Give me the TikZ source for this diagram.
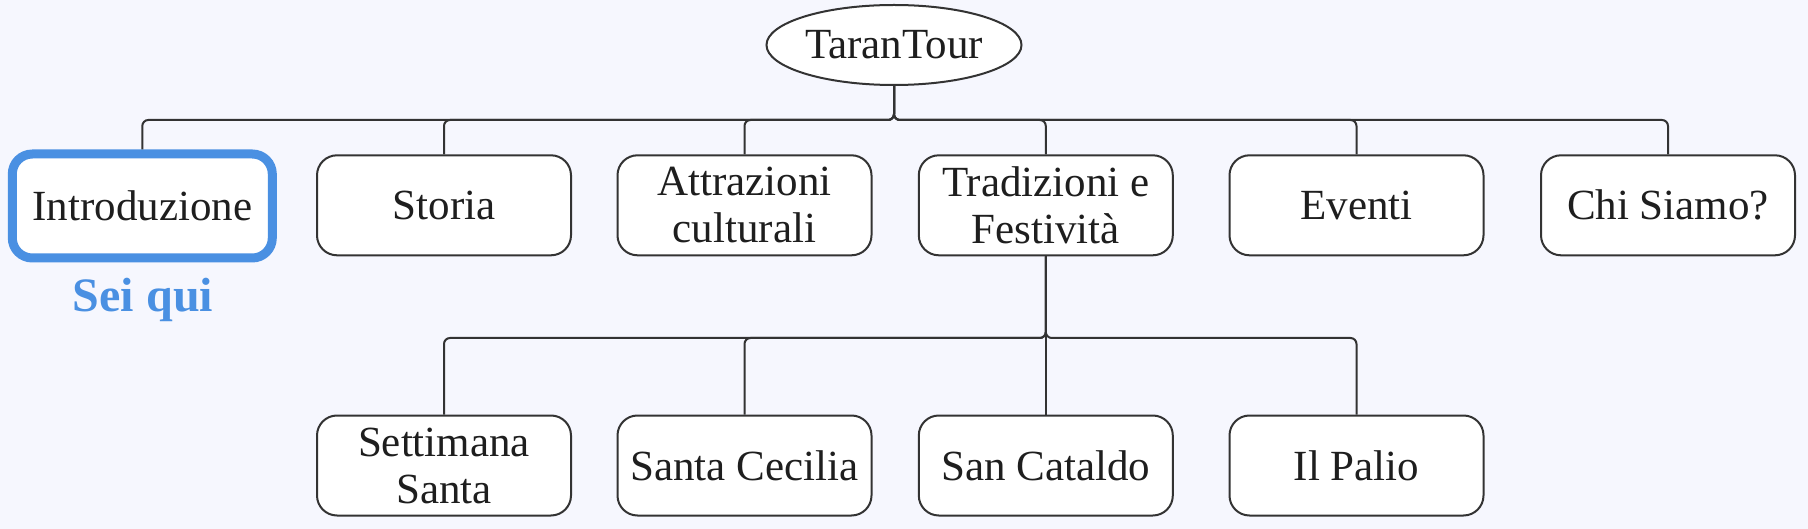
\documentclass[tikz,border=0pt]{standalone}
\usepackage{fontspec}
\setmainfont{Liberation Serif}
\usetikzlibrary{shapes.geometric}
\definecolor{bgc}{HTML}{F6F7FE}
\definecolor{linec}{HTML}{333333}
\definecolor{txtc}{HTML}{1E1E1E}
\definecolor{hiblue}{HTML}{4A90E2}
\tikzset{
  box/.style={draw=linec, line width=2pt, fill=white, rectangle, rounded corners=20pt,
    minimum width=254pt, minimum height=100pt, align=center, text=txtc,
    font=\fontsize{43}{47}\selectfont, inner sep=0pt},
  hibox/.style={box, draw=hiblue, line width=9pt, minimum width=260pt, minimum height=104pt},
  rootnode/.style={draw=linec, line width=2pt, fill=white, ellipse, minimum width=255pt,
    minimum height=80pt, inner sep=0pt, text=txtc, font=\fontsize{43}{47}\selectfont},
  conn/.style={draw=linec, line width=2pt, rounded corners=6pt},
  hilabel/.style={text=hiblue, font=\fontsize{48}{52}\selectfont\bfseries, anchor=base}
}
\begin{document}
\begin{tikzpicture}[x=1pt, y=-1pt]
\fill[bgc] (0,0) rectangle (1808,529);
\useasboundingbox (0,0) rectangle (1808,529);

\node[rootnode] (root) at (894,45) {TaranTour};

\node[hibox] (intro) at (142.3,206) {Introduzione};
\node[box] (storia) at (444,205.3) {Storia};
\node[box] (attr) at (744.5,205.3) {Attrazioni\\culturali};
\node[box] (trad) at (1045.8,205.3) {Tradizioni e\\Festività};
\node[box] (eventi) at (1356.5,205.3) {Eventi};
\node[box] (chi) at (1668,205.3) {Chi Siamo?};

\node[hilabel] (sei) at (143,312) {Sei qui};

\node[box] (sett) at (444,465.5) {Settimana\\Santa};
\node[box] (cec) at (744.5,465.5) {Santa Cecilia};
\node[box] (cat) at (1045.8,465.5) {San Cataldo};
\node[box] (palio) at (1356.5,465.5) {Il Palio};

\coordinate (bus1) at (0,120);
\coordinate (bus2) at (0,338);

\foreach \c in {intro,storia,attr,trad,eventi,chi}{
  \draw[conn] (root.south) -- (root.south |- bus1) -- (\c.north |- bus1) -- (\c.north);
}
\foreach \c in {sett,cec,cat,palio}{
  \draw[conn] (trad.south) -- (trad.south |- bus2) -- (\c.north |- bus2) -- (\c.north);
}
\end{tikzpicture}
\end{document}
